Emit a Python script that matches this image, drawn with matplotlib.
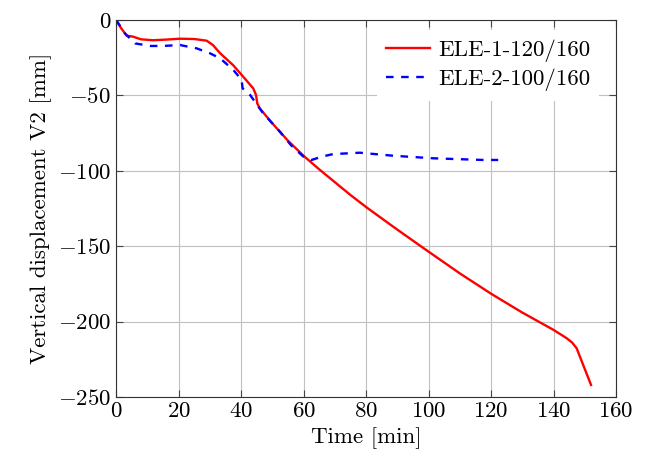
import matplotlib
matplotlib.use("Agg")
import matplotlib.pyplot as plt

plt.rcParams['font.family'] = 'serif'
plt.rcParams['font.serif'] = ['cmr10']
plt.rcParams['mathtext.fontset'] = 'cm'
plt.rcParams['axes.formatter.use_mathtext'] = True
plt.rcParams['font.size'] = 16.5

# ELE-1-120/160
t1 = [0, 1.5, 3.4, 5.4, 8, 11.8, 16, 20.5, 25, 29, 31, 33.3, 37.5, 40.7,
      43.9, 44.8, 45.2, 46, 50, 55, 60, 65, 70, 75, 80, 90, 100, 110,
      120, 130, 140, 144.2, 146, 147.4, 152]
v1 = [0, -5, -10.4, -11, -12.8, -13.4, -13, -12.4, -12.6, -13.7, -16.6, -22,
      -30, -37.6, -45.3, -49.7, -55.3, -58.6, -68.5, -80, -90, -99, -107.5,
      -116, -124, -139, -153.6, -168, -181.5, -194, -205.5, -211, -214,
      -217.7, -242]

# ELE-2-100/160
t2 = [0, 1.5, 2.9, 6.1, 10.9, 15, 20.5, 25.8, 30, 33.3, 37.5, 40.2, 40.5,
      42.9, 47.1, 52, 56, 60, 62.6, 66, 69.5, 78, 88.7, 101.5, 110, 117.5,
      122.3]
v2 = [0, -4.5, -9, -15.5, -17.2, -17.2, -16.6, -18.8, -22, -25.4, -33, -39.8,
      -45.3, -49.7, -61.9, -73, -83, -90.7, -92.8, -90.5, -88.9, -88, -90,
      -91.7, -92.3, -92.8, -92.8]

fig = plt.figure(figsize=(6.46, 4.57), dpi=100)
ax = fig.add_axes([0.1796, 0.1313, 0.774, 0.8249])

ax.plot(t1, v1, color='red', lw=1.7, label='ELE-1-120/160')
ax.plot(t2, v2, color='blue', lw=1.7, dashes=(3.2, 3.2), label='ELE-2-100/160')

ax.set_xlim(0, 160)
ax.set_ylim(-250, 0)
ax.set_xticks(range(0, 161, 20))
ax.set_yticks(range(-250, 1, 50))
ax.grid(True, color='#c0c0c0', lw=0.8)
ax.set_axisbelow(True)
ax.tick_params(direction='in', top=True, right=True, length=5, color='#444444')
for s in ax.spines.values():
    s.set_color('#333333')

ax.set_xlabel('Time [min]')
ax.set_ylabel('Vertical displacement V2 [mm]')

leg = ax.legend(loc='upper right', bbox_to_anchor=(0.985, 0.997),
                frameon=True, fancybox=False, edgecolor='none', framealpha=1,
                handlelength=1.92, handletextpad=0.34, borderaxespad=0.4,
                labelspacing=0.3)

fig.savefig('out.png', dpi=100)
